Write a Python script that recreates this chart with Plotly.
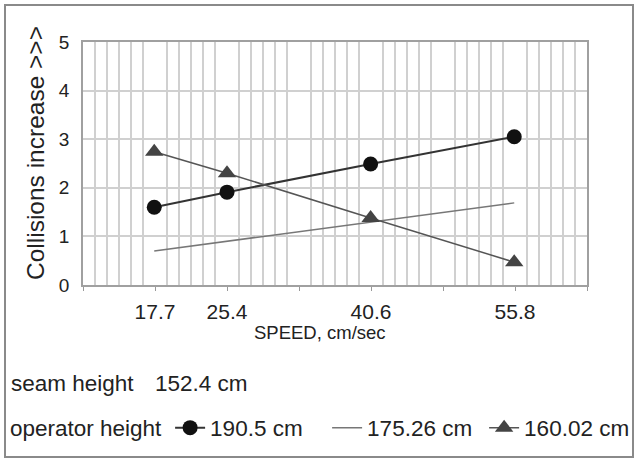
import plotly.graph_objects as go

# ---- data ----
speed = [17.7, 25.4, 40.6, 55.8]                 # cm/sec
coll_190 = [1.60, 1.91, 2.49, 3.05]              # operator height 190.5 cm
coll_175 = [0.70, 0.90, 1.29, 1.69]              # operator height 175.26 cm
coll_160 = [2.74, 2.30, 1.38, 0.47]              # operator height 160.02 cm
speed_tick_labels = ["17.7", "25.4", "40.6", "55.8"]
series_names = ["190.5 cm", "175.26 cm", "160.02 cm"]
seam_label = ["seam height", "152.4 cm"]

W, H = 637, 462
L, R, T, B = 83, 50, 42, 177
PW, PH = W - L - R, H - T - B


def px_x(x):
    return (x - L) / PW


def px_y(y):
    return (H - B - y) / PH


FONT = "Liberation Sans, Arial, sans-serif"
TXT = "#222222"
LEG = 22.5

# axis configuration (original axis was in inch/sec: 4..25, major 3, minor 0.5)
IN = 2.54
major_vals = [IN * k for k in range(4, 26, 3)]
major_text = []
for v in major_vals:
    lab = ""
    for s, t in zip(speed, speed_tick_labels):
        if abs(s - v) < 0.3:
            lab = t
    major_text.append(lab)
minor_vals = [IN * (4 + 0.5 * i) for i in range(43) if i % 6 != 0]

fig = go.Figure()
fig.add_trace(go.Scatter(
    x=speed, y=coll_190, name=series_names[0], mode="lines+markers",
    line=dict(color="#333333", width=2),
    marker=dict(symbol="circle", size=15, color="#111111"),
))
fig.add_trace(go.Scatter(
    x=speed, y=coll_175, name=series_names[1], mode="lines",
    line=dict(color="#777777", width=1.5),
))
fig.add_trace(go.Scatter(
    x=speed, y=coll_160, name=series_names[2], mode="lines+markers",
    line=dict(color="#555555", width=1.5),
    marker=dict(symbol="triangle-up", size=16, color="#444444"),
))

fig.update_layout(
    width=W, height=H,
    margin=dict(l=L, r=R, t=T, b=B, pad=0, autoexpand=False),
    paper_bgcolor="white", plot_bgcolor="white",
    font=dict(family=FONT, color=TXT, size=17),
    showlegend=True,
    legend=dict(
        orientation="h", x=px_x(8), xanchor="left", y=px_y(428), yanchor="middle",
        title=dict(text="operator height", side="left", font=dict(size=LEG)),
        font=dict(size=LEG), bgcolor="rgba(0,0,0,0)", borderwidth=0,
        itemsizing="trace", entrywidth=112, entrywidthmode="pixels",
    ),
    xaxis=dict(
        range=[IN * 4, IN * 25], automargin=False,
        tickmode="array", tickvals=major_vals, ticktext=major_text,
        ticks="outside", ticklen=4, tickcolor="#999999", tickwidth=1,
        showgrid=False, zeroline=False,
        showline=True, mirror=True, linecolor="#a0a0a0", linewidth=1.5,
        tickfont=dict(size=21, color=TXT),
        ticklabelstandoff=3,
        minor=dict(tickmode="array", tickvals=minor_vals, showgrid=True,
                   gridcolor="#d0d0d0", gridwidth=1.5, ticks=""),
    ),
    yaxis=dict(
        range=[0, 5], dtick=1, tick0=0, automargin=False,
        showgrid=True, gridcolor="#d0d0d0", gridwidth=1.5,
        zeroline=False, ticks="",
        showline=True, mirror=True, linecolor="#a0a0a0", linewidth=1.5,
        tickfont=dict(size=19, color=TXT),
        ticklabelstandoff=8,
    ),
    annotations=[
        dict(text="Collisions increase >>>", x=px_x(35), y=px_y(153), xref="paper", yref="paper",
             xanchor="center", yanchor="middle", textangle=-90, showarrow=False,
             font=dict(size=24.5, color=TXT)),
        dict(text="SPEED, cm/sec", x=px_x(320), y=px_y(332), xref="paper", yref="paper",
             xanchor="center", yanchor="middle", showarrow=False, font=dict(size=18.5, color=TXT)),
        dict(text=seam_label[0], x=px_x(9), y=px_y(383),
             xref="paper", yref="paper", xanchor="left", yanchor="middle",
             showarrow=False, font=dict(size=LEG, color=TXT)),
        dict(text=seam_label[1], x=px_x(153), y=px_y(383),
             xref="paper", yref="paper", xanchor="left", yanchor="middle",
             showarrow=False, font=dict(size=LEG, color=TXT)),
    ],
    shapes=[
        dict(type="rect", xref="paper", yref="paper",
             x0=px_x(5), x1=px_x(633), y0=px_y(457), y1=px_y(5),
             line=dict(color="#8a8a8a", width=2), layer="below"),
    ],
)

fig.write_html("out.html", config={"displayModeBar": False},
               post_script="document.body.style.margin='0px';")
